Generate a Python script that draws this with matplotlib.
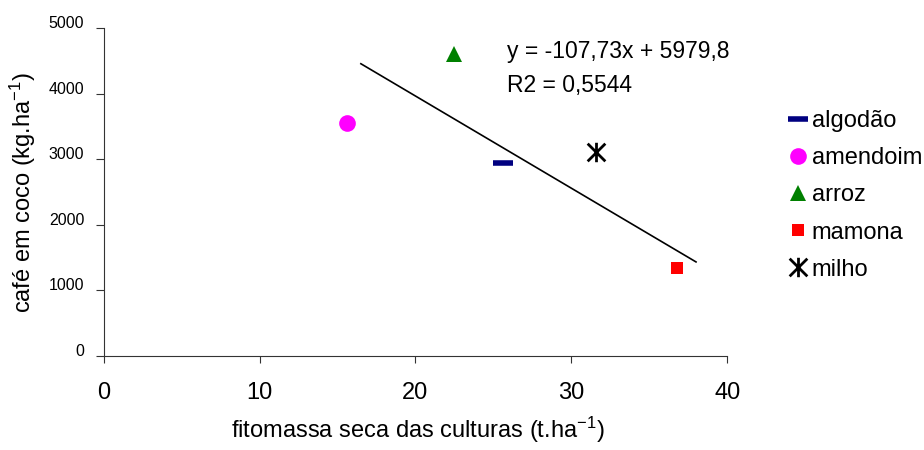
import matplotlib
matplotlib.use('Agg')
import matplotlib.pyplot as plt
from matplotlib.path import Path

plt.rcParams['font.family'] = ['Liberation Sans', 'DejaVu Sans']
plt.rcParams['mathtext.fontset'] = 'custom'
plt.rcParams['mathtext.rm'] = 'Liberation Sans'
plt.rcParams['mathtext.it'] = 'Liberation Sans:italic'

# data
culturas = ['algodão', 'amendoim', 'arroz', 'mamona', 'milho']
fitomassa = [25.6, 15.6, 22.5, 36.8, 31.6]
cafe = [2940, 3550, 4615, 1340, 3115]

trend_x = [16.5, 38.0]
trend_y = [4460, 1435]
equacao = 'y = -107,73x + 5979,8'
r2 = 'R2 = 0,5544'

x_ticks = [0, 10, 20, 30, 40]
y_ticks = [0, 1000, 2000, 3000, 4000, 5000]

# X with a vertical bar, like the Excel star marker
star = Path([(-1, -1), (1, 1), (-1, 1), (1, -1), (0, -1.1), (0, 1.1)],
            [Path.MOVETO, Path.LINETO, Path.MOVETO, Path.LINETO, Path.MOVETO, Path.LINETO])

estilos = {
    'algodão': dict(marker='_', color='#000080', ms=14, mew=4),
    'amendoim': dict(marker='o', color='#FF00FF', ms=12, mew=0),
    'arroz': dict(marker='^', color='#008000', ms=12, mew=0),
    'mamona': dict(marker='s', color='#FF0000', ms=8, mew=0),
    'milho': dict(marker=star, color='black', ms=14, mew=2, mfc='none'),
}

fig = plt.figure(figsize=(9.24, 4.5), dpi=100)
ax = fig.add_axes([0.1122, 0.209, 0.6748, 0.728])

for nome, x, y in zip(culturas, fitomassa, cafe):
    ax.plot([x], [y], linestyle='none', label=nome, **estilos[nome])

ax.plot(trend_x, trend_y, color='black', lw=1.2)

ax.text(25.9, 4640, equacao, fontsize=16.5, va='center', ha='left')
ax.text(25.9, 4135, r2, fontsize=16.5, va='center', ha='left')

ax.set_xlim(0, 40)
ax.set_ylim(0, 5000)
ax.set_xticks(x_ticks)
ax.set_yticks(y_ticks)
ax.tick_params(axis='x', labelsize=17, length=5, width=0.8, colors='#333333',
               labelcolor='black', pad=14)
ax.tick_params(axis='y', labelsize=11.5, length=6, width=0.8, colors='#333333',
               labelcolor='black', pad=8)
for lab in ax.get_yticklabels():
    lab.set_verticalalignment('baseline')

for s in ['top', 'right']:
    ax.spines[s].set_visible(False)
for s in ['left', 'bottom']:
    ax.spines[s].set_linewidth(0.8)
    ax.spines[s].set_color('#333333')

ax.set_xlabel('fitomassa seca das culturas (t.ha$^{-1}$)', fontsize=17)
ax.set_ylabel('café em coco (kg.ha$^{-1}$)', fontsize=17)
ax.xaxis.set_label_coords(0.503, -0.18)
ax.yaxis.set_label_coords(-0.105, 0.5)

ax.legend(loc='upper left', bbox_to_anchor=(0.853, 0.755), bbox_transform=fig.transFigure,
          frameon=False, fontsize=17, numpoints=1, handlelength=0.8, handletextpad=0.2,
          labelspacing=0.64, borderpad=0, borderaxespad=0)

fig.savefig('out.png', dpi=100)
